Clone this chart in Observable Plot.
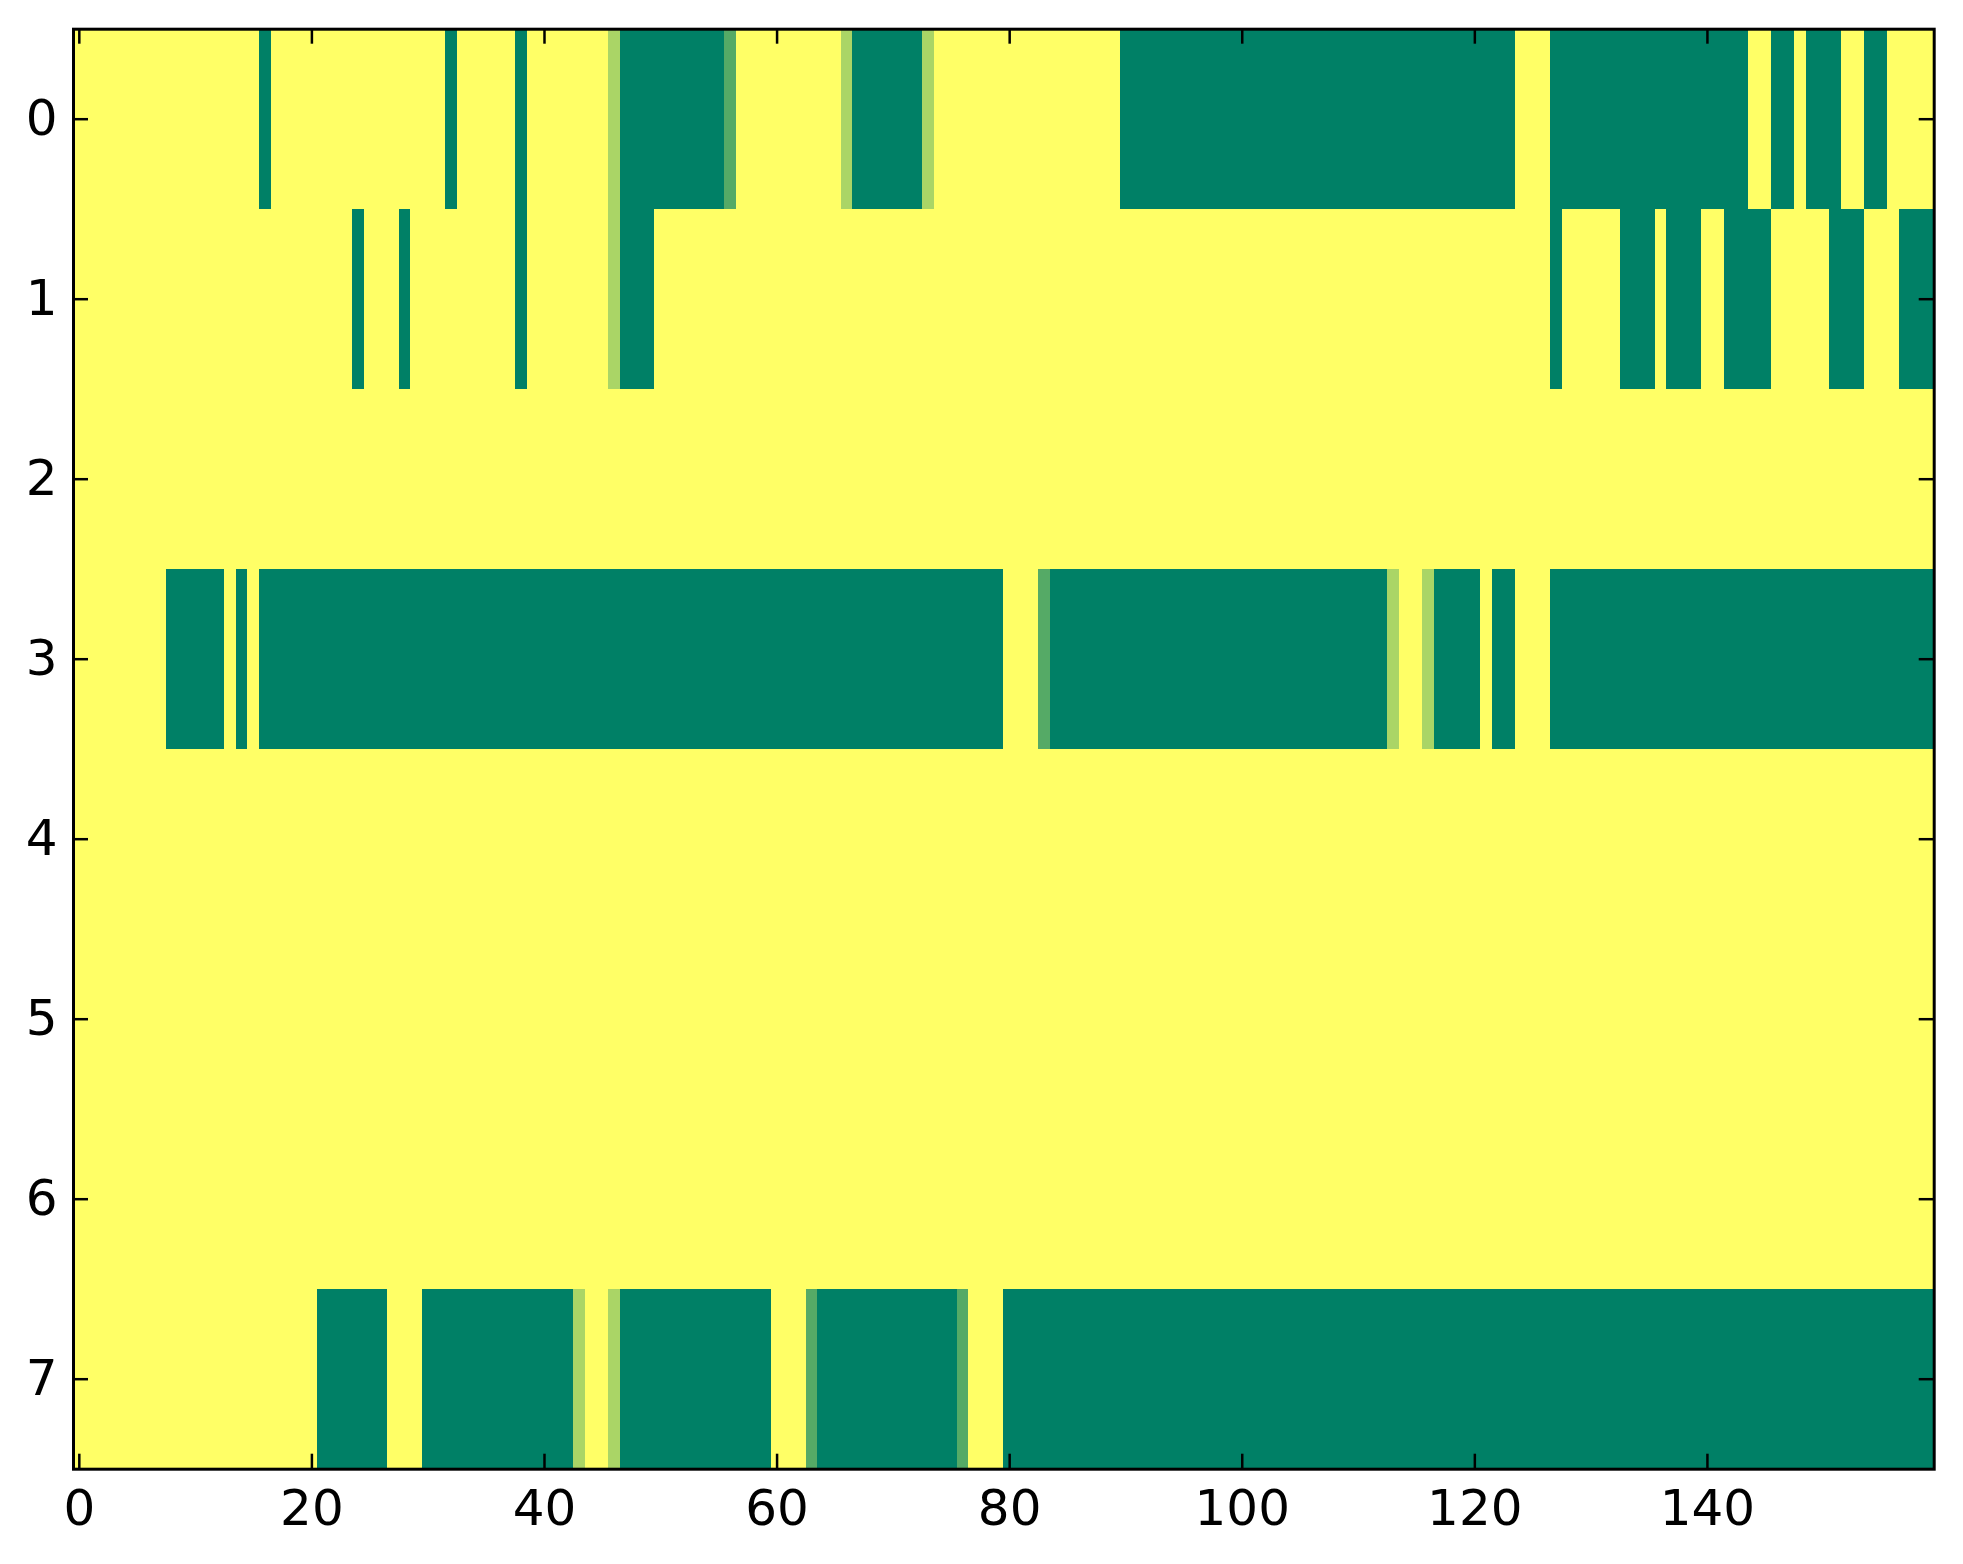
<!DOCTYPE html>
<html>
<head>
<meta charset="utf-8">
<script src="https://cdn.jsdelivr.net/npm/d3@7"></script>
<script src="https://cdn.jsdelivr.net/npm/@observablehq/plot@0.6"></script>
<style>
  html, body { margin: 0; padding: 0; background: #ffffff; }
  #chart svg { display: block; }
</style>
</head>
<body>
<div id="chart"></div>
<script>
// Cell values per row, one digit per column (0..159), grouped by tens.
// digit/3 = value: 0 -> green, 1 -> 1/3, 2 -> 2/3, 3 -> 1 (yellow)
const row0 = "3333333333 3333330333 3333333333 3303333303 3333332000 0000001333 3333332000 0002333333 3333333333 0000000000 0000000000 0000000000 0000333000 0000000000 0000330030 0033003333";
const row1 = "3333333333 3333333333 3333033303 3333333303 3333332000 3333333333 3333333333 3333333333 3333333333 3333333333 3333333333 3333333333 3333333033 3330003000 3300003333 3000333000";
const row2 = "3333333333 3333333333 3333333333 3333333333 3333333333 3333333333 3333333333 3333333333 3333333333 3333333333 3333333333 3333333333 3333333333 3333333333 3333333333 3333333333";
const row3 = "3333333300 0003030000 0000000000 0000000000 0000000000 0000000000 0000000000 0000000000 3331000000 0000000000 0000000000 0002332000 0300333000 0000000000 0000000000 0000000000";
const row4 = "3333333333 3333333333 3333333333 3333333333 3333333333 3333333333 3333333333 3333333333 3333333333 3333333333 3333333333 3333333333 3333333333 3333333333 3333333333 3333333333";
const row5 = "3333333333 3333333333 3333333333 3333333333 3333333333 3333333333 3333333333 3333333333 3333333333 3333333333 3333333333 3333333333 3333333333 3333333333 3333333333 3333333333";
const row6 = "3333333333 3333333333 3333333333 3333333333 3333333333 3333333333 3333333333 3333333333 3333333333 3333333333 3333333333 3333333333 3333333333 3333333333 3333333333 3333333333";
const row7 = "3333333333 3333333333 3000000333 0000000000 0002332000 0000000000 3331000000 0000001333 0000000000 0000000000 0000000000 0000000000 0000000000 0000000000 0000000000 0000000000";

const rows = [row0, row1, row2, row3, row4, row5, row6, row7];
const xTicks = [0, 20, 40, 60, 80, 100, 120, 140];
const yTicks = [0, 1, 2, 3, 4, 5, 6, 7];

const cells = [];
rows.forEach((s, r) => {
  const digits = s.replace(/\s+/g, "");
  for (let c = 0; c < digits.length; c++) {
    cells.push({col: c, row: r, v: +digits[c] / 3});
  }
});
const nCols = rows[0].replace(/\s+/g, "").length;

const W = 1963, H = 1564;
const mL = 73, mR = 29.3, mT = 28.7, mB = 95.3;
const frameW = W - mL - mR, frameH = H - mT - mB;
const tickLen = 15;

const chart = Plot.plot({
  width: W,
  height: H,
  marginLeft: mL,
  marginRight: mR,
  marginTop: mT,
  marginBottom: mB,
  style: {fontFamily: "DejaVu Sans", fontSize: "50px", background: "#ffffff", color: "#000000"},
  x: {type: "linear", domain: [-0.5, nCols - 0.5]},
  y: {type: "linear", domain: [-0.5, rows.length - 0.5], reverse: true},
  color: {type: "linear", domain: [0, 1], range: ["#008066", "#ffff66"], interpolate: "rgb"},
  marks: [
    Plot.rect(cells, {
      x1: d => d.col - 0.5, x2: d => d.col + 0.5,
      y1: d => d.row - 0.5, y2: d => d.row + 0.5,
      fill: "v", shapeRendering: "crispEdges"
    }),
    // inward ticks on all four sides
    Plot.tickX(xTicks, {x: d => d, insetTop: frameH - tickLen, stroke: "#000", strokeWidth: 2.5}),
    Plot.tickX(xTicks, {x: d => d, insetBottom: frameH - tickLen, stroke: "#000", strokeWidth: 2.5}),
    Plot.tickY(yTicks, {y: d => d, insetRight: frameW - tickLen, stroke: "#000", strokeWidth: 2.5}),
    Plot.tickY(yTicks, {y: d => d, insetLeft: frameW - tickLen, stroke: "#000", strokeWidth: 2.5}),
    Plot.axisX({ticks: xTicks, tickSize: 0, tickPadding: 20, fontSize: 50, label: null, tickFormat: d => String(d), fill: "#000"}),
    Plot.axisY({ticks: yTicks, tickSize: 0, tickPadding: 16, fontSize: 50, label: null, tickFormat: d => String(d), fill: "#000"}),
    Plot.frame({stroke: "#000", strokeWidth: 3})
  ]
});
document.getElementById("chart").appendChild(chart);
</script>
</body>
</html>
